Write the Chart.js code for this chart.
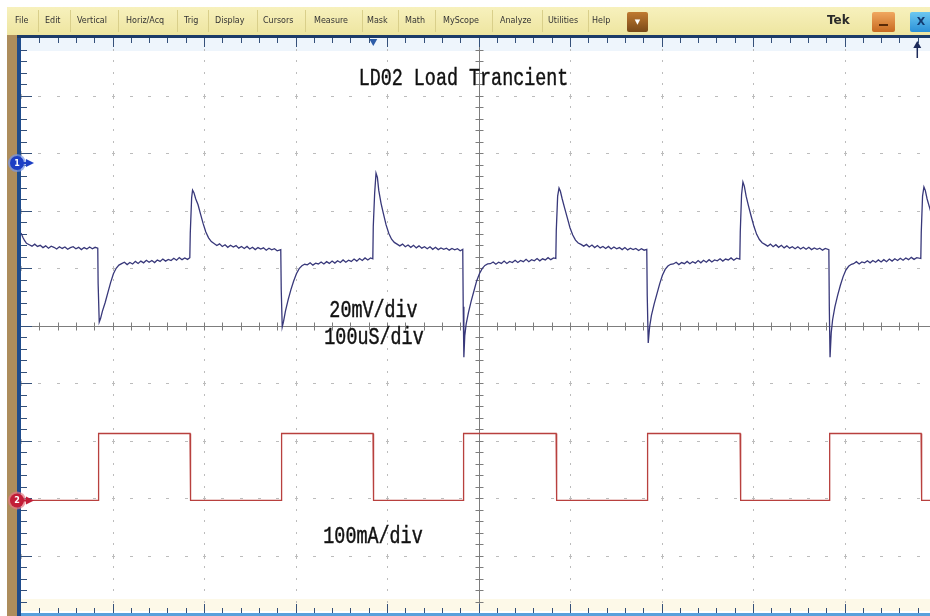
<!DOCTYPE html>
<html>
<head>
<meta charset="utf-8">
<script src="https://cdn.jsdelivr.net/npm/chart.js@4/dist/chart.umd.min.js"></script>
<style>
html, body { margin: 0; padding: 0; width: 930px; height: 616px; overflow: hidden; background: #fff; }
#wrap { position: absolute; left: 0; top: 0; width: 936px; height: 616px; }
#scope { position: absolute; left: 0; top: 0; }
#menu { position: absolute; left: 7px; top: 7px; width: 923px; height: 28px;
  background: linear-gradient(#f7f1bd, #eee5a0); font: 8px "DejaVu Sans", sans-serif; color: #333; }
.mi { position: absolute; top: 9px; white-space: nowrap; }
.sep { position: absolute; top: 3px; width: 1px; height: 22px; background: #d9cf8a; }
.btn { position: absolute; top: 5px; height: 20px; border-radius: 2px; }
.note { position: absolute; font: 18.4px "Liberation Mono", monospace; color: #111; white-space: nowrap;
  line-height: 20px; transform: translateX(-50%) scaleY(1.3); -webkit-text-stroke: 0.35px #111; }
</style>
</head>
<body>
<div id="wrap"><canvas id="scope" width="936" height="616"></canvas></div>
<div id="menu"></div>
<script>
'use strict';

// Ch1: output voltage, mV relative to the channel 1 marker; time in us from the left edge
const ch1Trace = [
  [0,-24.3],[2,-25.8],[4,-27.0],[6,-27.9],[9,-28.4],[12,-28.9],[15,-28.2],[18,-29.0],[21,-28.6],[24,-29.4],
  [27,-28.8],[30,-29.6],[33,-28.9],[36,-29.3],[39,-29.9],[42,-29.1],[45,-29.7],[48,-29.2],[51,-30.0],[54,-29.4],
  [57,-29.1],[60,-29.8],[63,-29.3],[66,-30.1],[69,-29.4],[72,-29.9],[75,-29.2],[78,-29.8],[81,-29.3],[83.9,-29.6],
  [84.3,-42.0],[85.5,-55.3],[87,-54.0],[89,-51.5],[92,-48.5],[95,-45.0],[98,-41.5],[101,-38.5],[104,-36.6],[107,-35.5],[110,-35.0],
  [113,-34.5],[116,-35.3],[119,-34.6],[122,-35.1],[125,-34.2],[128,-34.9],[131,-34.1],[134,-34.7],[137,-33.8],[140,-34.5],
  [143,-33.9],[146,-34.6],[149,-33.7],[152,-34.2],[155,-33.4],[158,-34.1],[161,-33.5],[164,-33.9],[167,-33.1],[170,-33.8],
  [173,-32.9],[176,-33.6],[179,-33.0],[182,-33.5],[184.5,-32.9],
  [185,-24.3],[186.5,-12.0],[187.5,-9.4],[189,-10.3],[191,-12.5],[193.5,-14.5],[196,-17.5],[199,-21.0],[202,-24.0],[205,-26.0],[208,-27.3],[211,-28.0],
  [214,-28.7],[217,-28.1],[220,-29.0],[223,-28.4],[226,-29.3],[229,-28.6],[232,-29.2],[235,-28.7],[238,-29.6],[241,-29.0],
  [244,-29.7],[247,-29.0],[250,-29.9],[253,-29.3],[256,-30.1],[259,-29.4],[262,-29.9],[265,-29.5],[268,-30.3],[271,-29.6],
  [274,-30.2],[277,-29.8],[280,-30.5],[283.9,-30.1],
  [284.4,-44.0],[285.5,-57.0],[287,-55.0],[289,-51.5],[292,-47.5],[295,-44.0],[298,-41.0],[301,-38.5],[304,-36.7],[307,-35.7],[310,-35.2],
  [313,-35.4],[316,-34.7],[319,-35.5],[322,-34.8],[325,-35.1],[328,-34.4],[331,-35.1],[334,-34.3],[337,-34.9],[340,-34.1],
  [343,-34.8],[346,-34.0],[349,-34.6],[352,-33.7],[355,-34.5],[358,-33.8],[361,-34.2],[364,-33.4],[367,-34.1],[370,-33.2],
  [373,-33.9],[376,-33.0],[379,-33.7],[382,-33.0],[384.5,-33.3],
  [385,-22.0],[386.5,-10.5],[388,-3.5],[389.5,-5.0],[391,-9.5],[393.5,-14.0],[396,-17.5],[399,-21.5],[402,-24.5],[405,-26.5],[408,-27.6],[411,-28.2],
  [414,-28.8],[417,-28.2],[420,-29.1],[423,-28.5],[426,-29.3],[429,-28.6],[432,-29.5],[435,-28.8],[438,-29.6],[441,-29.1],
  [444,-29.8],[447,-29.1],[450,-30.0],[453,-29.3],[456,-30.1],[459,-29.5],[462,-30.0],[465,-29.6],[468,-30.3],[471,-29.7],
  [474,-30.2],[477,-29.8],[480,-30.5],[482.8,-30.0],
  [483.3,-50.0],[484,-67.5],[485,-60.0],[486.5,-56.0],[489,-52.0],[492,-48.0],[495,-44.5],[498,-41.0],[501,-38.5],[504,-36.7],[507,-35.6],[510,-35.1],
  [513,-35.0],[516,-34.4],[519,-35.2],[522,-34.5],[525,-34.9],[528,-34.1],[531,-34.9],[534,-34.2],[537,-34.6],[540,-33.8],
  [543,-34.6],[546,-33.9],[549,-34.3],[552,-33.5],[555,-34.3],[558,-33.6],[561,-34.0],[564,-33.2],[567,-34.0],[570,-33.3],
  [573,-33.7],[576,-32.9],[579,-33.6],[582,-33.0],[584.5,-33.2],
  [585,-23.5],[586.5,-11.5],[588,-8.7],[589.5,-9.8],[591.5,-12.5],[594,-15.5],[597,-19.0],[600,-22.5],[603,-25.0],[606,-26.8],[609,-27.8],[612,-28.3],
  [615,-28.9],[618,-28.3],[621,-29.2],[624,-28.5],[627,-29.4],[630,-28.7],[633,-29.5],[636,-29.0],[639,-29.7],[642,-29.0],
  [645,-29.9],[648,-29.2],[651,-29.8],[654,-29.4],[657,-30.1],[660,-29.4],[663,-30.2],[666,-29.6],[669,-30.1],[672,-29.7],
  [675,-30.4],[678,-29.8],[681,-30.3],[683.9,-30.0],
  [684.4,-46.0],[685.5,-62.6],[687,-57.0],[689,-53.0],[692,-49.0],[695,-45.5],[698,-42.0],[701,-39.0],[704,-37.0],[707,-35.8],[710,-35.2],
  [713,-35.1],[716,-34.5],[719,-35.3],[722,-34.6],[725,-35.0],[728,-34.2],[731,-35.0],[734,-34.3],[737,-34.8],[740,-33.9],
  [743,-34.7],[746,-33.8],[749,-34.5],[752,-33.6],[755,-34.4],[758,-33.7],[761,-34.0],[764,-33.3],[767,-34.1],[770,-33.4],
  [773,-33.7],[776,-33.0],[779,-33.8],[782,-33.1],[785.6,-33.4],
  [786.1,-23.8],[787.5,-11.0],[789,-6.6],[790.5,-8.0],[792.5,-11.5],[795,-14.8],[798,-18.5],[801,-22.0],[804,-24.8],[807,-26.6],[810,-27.7],[813,-28.3],
  [816,-28.9],[819,-28.2],[822,-29.1],[825,-28.4],[828,-29.3],[831,-28.6],[834,-29.5],[837,-28.8],[840,-29.6],[843,-29.1],
  [846,-29.8],[849,-29.1],[852,-29.9],[855,-29.3],[858,-30.0],[861,-29.3],[864,-30.1],[867,-29.5],[870,-30.0],[873,-29.6],
  [876,-30.3],[879,-29.7],[882.9,-30.1],
  [883.4,-50.0],[884.2,-67.5],[885.5,-59.0],[887,-54.5],[889.5,-50.0],[892.5,-46.0],[895.5,-42.5],[898.5,-39.5],[901.5,-37.2],[904.5,-35.9],[907.5,-35.2],
  [910,-35.0],[913,-34.3],[916,-35.1],[919,-34.4],[922,-34.7],[925,-34.0],[928,-34.7],[931,-33.9],[934,-34.5],[937,-33.7],
  [940,-34.4],[943,-33.6],[946,-34.3],[949,-33.4],[952,-34.1],[955,-33.3],[958,-33.9],[961,-33.1],[964,-33.8],[967,-33.0],
  [970,-33.6],[973,-32.8],[976,-33.5],[979,-32.9],[983.4,-33.2],
  [983.9,-24.0],[985.3,-11.5],[986.8,-8.3],[988.3,-9.5],[990.3,-12.5],[993,-15.5],[996,-19.0]
];

// Ch2: load current, mA relative to the channel 2 marker
const ch2Trace = [
  [0,0],[84.2,0],[84.6,40],[85.0,116.5],[184.7,116.5],[185.1,70],[185.5,0],
  [284.2,0],[284.6,40],[285.0,116.5],[384.7,116.5],[385.1,70],[385.5,0],
  [483.1,0],[483.5,40],[483.9,116.5],[584.8,116.5],[585.2,70],[585.6,0],
  [684.2,0],[684.6,40],[685.0,116.5],[785.9,116.5],[786.3,70],[786.7,0],
  [883.2,0],[883.6,40],[884.0,116.5],[983.7,116.5],[984.1,70],[984.5,0],[1000,0]
];

const timeDivs = [0, 100, 200, 300, 400, 500, 600, 700, 800, 900, 1000];
const ch1Range = [-156.5, 43.5];   // 20 mV/div, 10 div
const ch2Range = [-195.7, 804.3];  // 100 mA/div, 10 div
const triggerTime = 385;
const refTime = 979;

const menuItems = [
  ['File', 15], ['Edit', 45], ['Vertical', 77], ['Horiz/Acq', 126], ['Trig', 184], ['Display', 215],
  ['Cursors', 263], ['Measure', 314], ['Mask', 367], ['Math', 405], ['MyScope', 443], ['Analyze', 500],
  ['Utilities', 548], ['Help', 592]
];
const menuSeps = [38, 70, 118, 177, 208, 257, 305, 362, 398, 435, 492, 542, 588];
const notes = [
  ['LD02 Load Trancient', 463.5, 82],
  ['20mV/div', 373.5, 314],
  ['100uS/div', 374, 341],
  ['100mA/div', 373, 539.5]
];

const menu = document.getElementById('menu');
menuSeps.forEach(x => {
  const s = document.createElement('div');
  s.className = 'sep';
  s.style.left = (x - 7) + 'px';
  menu.appendChild(s);
});
menuItems.forEach(([label, x]) => {
  const m = document.createElement('div');
  m.className = 'mi';
  m.style.left = (x - 7) + 'px';
  m.textContent = label;
  menu.appendChild(m);
});
menu.insertAdjacentHTML('beforeend',
  '<div class="btn" style="left:620px;width:21px;background:linear-gradient(#c07a30,#7a4a18);color:#fff;font-size:7px;text-align:center;line-height:20px">&#9660;</div>' +
  '<div class="mi" style="left:820px;top:6px;font:bold 12px \'DejaVu Sans\',sans-serif;color:#2a2a2a">Tek</div>' +
  '<div class="btn" style="left:865px;width:23px;background:linear-gradient(#f0a860,#c86a20)"><div style="position:absolute;left:7px;top:12px;width:9px;height:2px;background:#5a2a08"></div></div>' +
  '<div class="btn" style="left:903px;width:22px;background:linear-gradient(#6cc8f0,#2a90d8);color:#123a70;font:bold 11px \'DejaVu Sans\',sans-serif;text-align:center;line-height:20px">X</div>');

notes.forEach(([text, cx, cy]) => {
  const n = document.createElement('div');
  n.className = 'note';
  n.style.left = cx + 'px';
  n.style.top = (cy - 12) + 'px';
  n.textContent = text;
  document.body.appendChild(n);
});

const scopeFrame = {
  id: 'scopeFrame',
  beforeDatasetsDraw(chart) {
    const { ctx, chartArea: a, scales: { x } } = chart;
    const divH = (a.bottom - a.top) / 10;
    const divW = x.getPixelForValue(100) - x.getPixelForValue(0);
    ctx.save();
    // faint tinted bands at top and bottom of the screen
    ctx.fillStyle = 'rgba(222,236,250,0.5)';
    ctx.fillRect(a.left, a.top, a.right - a.left, 13);
    ctx.fillStyle = 'rgba(252,247,226,0.8)';
    ctx.fillRect(a.left, a.bottom - 14, a.right - a.left, 12);

    // dotted graticule
    ctx.fillStyle = '#bcbcbc';
    timeDivs.forEach((t, i) => {
      if (i === 0 || i === 5 || i === 10) return;
      const px = Math.round(x.getPixelForValue(t));
      for (let j = 1; j < 50; j++) {
        const py = Math.round(a.top + j * divH / 5);
        ctx.fillRect(px, py - 1, 1, 2);
      }
    });
    for (let i = 1; i < 10; i++) {
      if (i === 5) continue;
      const py = Math.round(a.top + i * divH);
      for (let j = 1; j < 50; j++) {
        const px = Math.round(a.left + j * divW / 5);
        ctx.fillRect(px - 1, py, 3, 1);
      }
      timeDivs.forEach(t => {
        const px = Math.round(x.getPixelForValue(t));
        ctx.fillRect(px, py - 2, 1, 5);
      });
    }

    // centre axes with ticks
    const cx = Math.round(x.getPixelForValue(500)) + 0.5;
    const cy = Math.round(a.top + 5 * divH) + 0.5;
    ctx.strokeStyle = '#7d7d7d';
    ctx.lineWidth = 1;
    ctx.beginPath();
    ctx.moveTo(a.left, cy); ctx.lineTo(a.right, cy);
    ctx.moveTo(cx, a.top); ctx.lineTo(cx, a.bottom);
    for (let j = 1; j < 50; j++) {
      const px = Math.round(a.left + j * divW / 5) + 0.5;
      ctx.moveTo(px, cy - 4); ctx.lineTo(px, cy + 4);
      const py = Math.round(a.top + j * divH / 5) + 0.5;
      ctx.moveTo(cx - 4, py); ctx.lineTo(cx + 4, py);
    }
    ctx.stroke();

    // edge ticks
    ctx.strokeStyle = '#34507a';
    ctx.beginPath();
    for (let j = 1; j < 50; j++) {
      const major = j % 5 === 0;
      const px = Math.round(a.left + j * divW / 5) + 0.5;
      ctx.moveTo(px, a.top); ctx.lineTo(px, a.top + (major ? 9 : 5));
      ctx.moveTo(px, a.bottom); ctx.lineTo(px, a.bottom - (major ? 9 : 5));
      const py = Math.round(a.top + j * divH / 5) + 0.5;
      ctx.moveTo(a.left, py); ctx.lineTo(a.left + (major ? 11 : 6), py);
    }
    ctx.stroke();
    ctx.restore();
  },
  afterDraw(chart) {
    const { ctx, chartArea: a, scales: { x, y, y2 } } = chart;
    ctx.save();
    // side strip and borders
    ctx.fillStyle = '#ad8d5c';
    ctx.fillRect(7, 35, 10, 581);
    ctx.fillStyle = '#1f4c8c';
    ctx.fillRect(17, 35, 4, 581);
    ctx.fillStyle = '#1c3b68';
    ctx.fillRect(17, 35, a.right - 17, 3);
    ctx.fillStyle = '#58a0dc';
    ctx.fillRect(21, a.bottom, a.right - 21, 3);

    // trigger position marker
    const tx = x.getPixelForValue(triggerTime);
    ctx.fillStyle = '#2c5ca8';
    ctx.beginPath();
    ctx.moveTo(tx - 4, 39); ctx.lineTo(tx + 4, 39); ctx.lineTo(tx, 46);
    ctx.closePath(); ctx.fill();
    // horizontal reference arrow, right edge
    const rx = x.getPixelForValue(refTime) + 0.5;
    ctx.strokeStyle = '#1c2a5a';
    ctx.lineWidth = 1.5;
    ctx.beginPath(); ctx.moveTo(rx, 46); ctx.lineTo(rx, 58); ctx.stroke();
    ctx.fillStyle = '#1c2a5a';
    ctx.beginPath(); ctx.moveTo(rx - 4, 48); ctx.lineTo(rx + 4, 48); ctx.lineTo(rx, 41); ctx.closePath(); ctx.fill();

    // channel markers
    const marker = (py, fill, halo, num) => {
      ctx.fillStyle = halo;
      ctx.beginPath(); ctx.arc(17, py, 9, 0, Math.PI * 2); ctx.fill();
      ctx.fillStyle = fill;
      ctx.beginPath(); ctx.arc(17, py, 7, 0, Math.PI * 2); ctx.fill();
      ctx.beginPath(); ctx.moveTo(26, py - 4); ctx.lineTo(34, py); ctx.lineTo(26, py + 4); ctx.closePath(); ctx.fill();
      ctx.fillRect(22, py - 1, 5, 2);
      ctx.fillStyle = '#fff';
      ctx.font = 'bold 8px "DejaVu Sans", sans-serif';
      ctx.textAlign = 'center'; ctx.textBaseline = 'middle';
      ctx.fillText(num, 17, py + 0.5);
    };
    marker(y.getPixelForValue(0), '#1d3fc4', 'rgba(120,150,230,0.7)', '1');
    marker(y2.getPixelForValue(0), '#c21e38', 'rgba(230,120,130,0.7)', '2');
    ctx.restore();
  }
};

new Chart(document.getElementById('scope'), {
  type: 'line',
  data: {
    datasets: [
      {
        label: 'Ch1 20mV/div',
        data: ch1Trace.map(([t, v]) => ({ x: t, y: v })),
        yAxisID: 'y',
        borderColor: '#38387a',
        borderWidth: 1.3,
        pointRadius: 0,
        tension: 0
      },
      {
        label: 'Ch2 100mA/div',
        data: ch2Trace.map(([t, v]) => ({ x: t, y: v })),
        yAxisID: 'y2',
        borderColor: '#b8403e',
        borderWidth: 1.3,
        pointRadius: 0,
        tension: 0
      }
    ]
  },
  options: {
    responsive: false,
    animation: false,
    layout: { padding: { left: 21, top: 38, right: 0, bottom: 3 } },
    plugins: { legend: { display: false }, tooltip: { enabled: false } },
    scales: {
      x: { type: 'linear', min: timeDivs[0], max: timeDivs[timeDivs.length - 1], display: false },
      y: { min: ch1Range[0], max: ch1Range[1], display: false },
      y2: { min: ch2Range[0], max: ch2Range[1], display: false }
    }
  },
  plugins: [scopeFrame]
});
</script>
</body>
</html>
